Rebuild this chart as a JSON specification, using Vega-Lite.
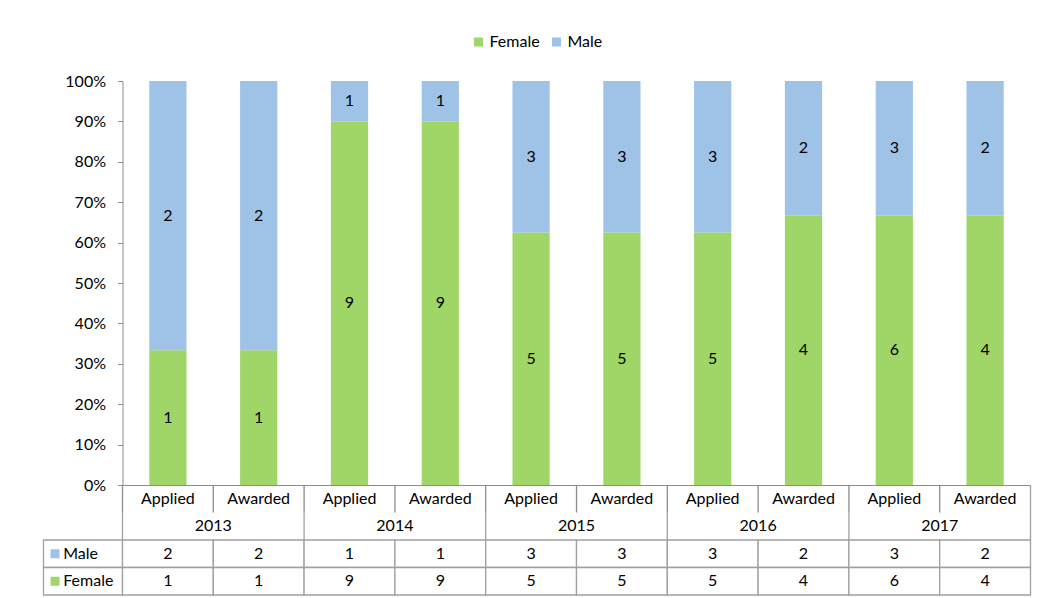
{
  "$schema": "https://vega.github.io/schema/vega-lite/v6.json",
  "background": "white",
  "padding": {"left": 42.5, "top": 34, "right": 5, "bottom": 2},
  "datasets": {
    "d": [
      {"cat": "2013 Applied", "year": "2013", "type": "Applied", "Female": 1, "Male": 2},
      {"cat": "2013 Awarded", "year": "2013", "type": "Awarded", "Female": 1, "Male": 2},
      {"cat": "2014 Applied", "year": "2014", "type": "Applied", "Female": 9, "Male": 1},
      {"cat": "2014 Awarded", "year": "2014", "type": "Awarded", "Female": 9, "Male": 1},
      {"cat": "2015 Applied", "year": "2015", "type": "Applied", "Female": 5, "Male": 3},
      {"cat": "2015 Awarded", "year": "2015", "type": "Awarded", "Female": 5, "Male": 3},
      {"cat": "2016 Applied", "year": "2016", "type": "Applied", "Female": 5, "Male": 3},
      {"cat": "2016 Awarded", "year": "2016", "type": "Awarded", "Female": 4, "Male": 2},
      {"cat": "2017 Applied", "year": "2017", "type": "Applied", "Female": 6, "Male": 3},
      {"cat": "2017 Awarded", "year": "2017", "type": "Awarded", "Female": 4, "Male": 2}
    ],
    "g": [{"gender": "Male"}, {"gender": "Female"}]
  },
  "columns": 2,
  "spacing": 0,
  "bounds": "flush",
  "align": "each",
  "concat": [
    {
      "width": 79, "height": 404,
      "data": {"values": [{}]},
      "mark": {"type": "text", "text": ""},
      "encoding": {}
    },
    {
      "width": 908, "height": 404,
      "data": {"name": "d"},
      "transform": [{"fold": ["Female", "Male"], "as": ["gender", "n"]}],
      "encoding": {
        "x": {"field": "cat", "type": "nominal", "sort": null,
              "scale": {"domain": ["2013 Applied","2013 Awarded","2014 Applied","2014 Awarded","2015 Applied","2015 Awarded","2016 Applied","2016 Awarded","2017 Applied","2017 Awarded"], "paddingInner": 0.59, "paddingOuter": 0.295},
              "axis": {"labels": false, "ticks": false, "title": null, "domainColor": "#8C8C8C", "domainWidth": 1}}
      },
      "layer": [
        {
          "mark": {"type": "bar"},
          "encoding": {
            "y": {"field": "n", "type": "quantitative", "stack": "normalize",
                  "scale": {"domain": [0, 1], "nice": false},
                  "axis": {"format": ".0%", "values": [0,0.1,0.2,0.3,0.4,0.5,0.6,0.7,0.8,0.9,1], "title": null, "grid": false,
                           "tickSize": 5, "labelPadding": 12, "domainColor": "#8C8C8C", "tickColor": "#8C8C8C",
                           "labelFont": "Lato", "labelFontSize": 16, "labelColor": "#000"}},
            "color": {"field": "gender", "type": "nominal",
                      "scale": {"domain": ["Female", "Male"], "range": ["#A0D568", "#9FC3E7"]},
                      "legend": {"orient": "none", "legendX": 427, "legendY": -47, "direction": "horizontal", "title": null,
                                 "symbolType": "square", "symbolSize": 81, "labelFont": "Lato", "labelFontSize": 16,
                                 "labelColor": "#000", "columnPadding": 8, "labelOffset": 3, "symbolStrokeWidth": 0}},
            "order": {"field": "gender", "type": "nominal", "sort": "ascending"}
          }
        },
        {
          "transform": [
            {"stack": "n", "groupby": ["cat"], "sort": [{"field": "gender"}], "offset": "normalize", "as": ["v0", "v1"]},
            {"calculate": "(datum.v0 + datum.v1) / 2", "as": "mid"}
          ],
          "mark": {"type": "text", "font": "Lato", "fontSize": 16, "color": "#000"},
          "encoding": {
            "y": {"field": "mid", "type": "quantitative", "stack": null},
            "text": {"field": "n", "type": "quantitative"}
          }
        }
      ]
    },
    {
      "width": 79, "height": 110,
      "data": {"name": "g"},
      "encoding": {
        "y": {"field": "gender", "type": "nominal",
              "scale": {"domain": ["type", "year", "Male", "Female"], "paddingInner": 0, "paddingOuter": 0}, "axis": null}
      },
      "layer": [
        {
          "mark": {"type": "rect", "fill": "white", "stroke": "#A0A0A0", "strokeWidth": 1.3},
          "encoding": {
            "x": {"datum": 0, "type": "quantitative", "scale": {"domain": [0, 1], "nice": false, "zero": false}, "axis": null},
            "x2": {"datum": 1}
          }
        },
        {
          "mark": {"type": "point", "shape": "square", "filled": true, "size": 81, "opacity": 1},
          "encoding": {
            "x": {"datum": 0.146, "type": "quantitative"},
            "color": {"field": "gender", "type": "nominal"}
          }
        },
        {
          "mark": {"type": "text", "align": "left", "font": "Lato", "fontSize": 16, "color": "#000"},
          "encoding": {
            "x": {"datum": 0.25, "type": "quantitative"},
            "text": {"field": "gender"}
          }
        }
      ]
    },
    {
      "width": 908, "height": 110,
      "data": {"name": "d"},
      "layer": [
        {
          "transform": [{"fold": ["Male", "Female"], "as": ["gender", "n"]}],
          "mark": {"type": "rect", "fill": "white", "stroke": "#A0A0A0", "strokeWidth": 1.3},
          "encoding": {
            "x": {"field": "cat", "type": "nominal", "sort": null,
                  "scale": {"domain": ["2013 Applied","2013 Awarded","2014 Applied","2014 Awarded","2015 Applied","2015 Awarded","2016 Applied","2016 Awarded","2017 Applied","2017 Awarded"], "paddingInner": 0, "paddingOuter": 0},
                  "axis": null},
            "y": {"field": "gender", "type": "nominal",
                  "scale": {"domain": ["type", "year", "Male", "Female"], "paddingInner": 0, "paddingOuter": 0}, "axis": null}
          }
        },
        {
          "transform": [{"fold": ["Male", "Female"], "as": ["gender", "n"]}],
          "mark": {"type": "text", "font": "Lato", "fontSize": 16, "color": "#000"},
          "encoding": {
            "x": {"field": "cat", "type": "nominal", "sort": null},
            "y": {"field": "gender", "type": "nominal"},
            "text": {"field": "n", "type": "quantitative"}
          }
        },
        {
          "mark": {"type": "rule", "color": "#8C8C8C", "strokeWidth": 1.3},
          "encoding": {
            "x": {"field": "cat", "type": "nominal", "sort": null, "bandPosition": 0},
            "y": {"datum": "type", "type": "nominal", "bandPosition": 0},
            "y2": {"datum": "year", "bandPosition": 0}
          }
        },
        {
          "transform": [{"filter": "datum.type == 'Applied'"}],
          "mark": {"type": "rule", "color": "#A0A0A0", "strokeWidth": 1.3},
          "encoding": {
            "x": {"field": "cat", "type": "nominal", "sort": null, "bandPosition": 0},
            "y": {"datum": "year", "type": "nominal", "bandPosition": 0},
            "y2": {"datum": "Male", "bandPosition": 0}
          }
        },
        {
          "transform": [{"filter": "datum.cat == '2017 Awarded'"}],
          "mark": {"type": "rule", "color": "#A0A0A0", "strokeWidth": 1.3},
          "encoding": {
            "x": {"field": "cat", "type": "nominal", "sort": null, "bandPosition": 1},
            "y": {"datum": "type", "type": "nominal", "bandPosition": 0},
            "y2": {"datum": "Male", "bandPosition": 0}
          }
        },
        {
          "mark": {"type": "text", "font": "Lato", "fontSize": 16, "color": "#000"},
          "encoding": {
            "x": {"field": "cat", "type": "nominal", "sort": null},
            "y": {"datum": "type", "type": "nominal"},
            "text": {"field": "type"}
          }
        },
        {
          "transform": [{"filter": "datum.type == 'Applied'"}],
          "mark": {"type": "text", "font": "Lato", "fontSize": 16, "color": "#000"},
          "encoding": {
            "x": {"field": "cat", "type": "nominal", "sort": null, "bandPosition": 1},
            "y": {"datum": "year", "type": "nominal"},
            "text": {"field": "year"}
          }
        }
      ]
    }
  ],
  "config": {"view": {"stroke": null}, "font": "Lato"}
}
